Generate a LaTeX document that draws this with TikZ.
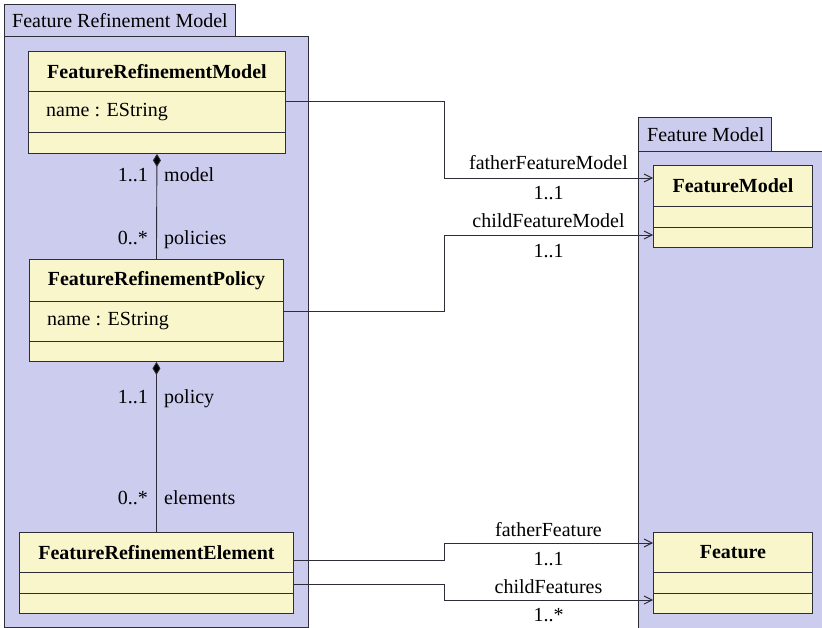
\documentclass[tikz,border=0pt]{standalone}
\usepackage{fontspec}
\setmainfont{Liberation Serif}
\usetikzlibrary{arrows.meta,calc}

\definecolor{pkgfill}{RGB}{204,204,238}
\definecolor{clsfill}{RGB}{249,246,204}
\definecolor{edgecol}{RGB}{45,45,55}

\tikzset{
  every node/.style={font=\fontsize{20}{24}\selectfont, inner sep=0pt, text=black},
  pkg/.style={draw=edgecol, fill=pkgfill, line width=0.9pt, anchor=north west},
  compartment/.style={draw=edgecol, fill=clsfill, line width=0.9pt, anchor=north west},
  clsname/.style={font=\fontsize{20}{24}\selectfont\bfseries},
  assoc/.style={draw=edgecol, line width=0.9pt, -{Straight Barb[length=8pt,width=8pt]}},
  compose/.style={draw=edgecol, line width=0.9pt, {Diamond[length=13pt,width=8pt,fill=black]}-},
}

\begin{document}
\begin{tikzpicture}[x=1pt,y=-1pt]
\useasboundingbox (0,0) rectangle (822,628);

% packages
\node[pkg, minimum width=231pt, minimum height=32pt] (lpTab) at (4,4) {};
\node[anchor=west] (lpName) at ($(lpTab.west)+(8,0)$) {Feature Refinement Model};
\node[pkg, minimum width=304pt, minimum height=591pt] (lpBody) at (4,36) {};

\node[pkg, minimum width=133pt, minimum height=34pt] (rpTab) at (638,117) {};
\node[anchor=west] (rpName) at ($(rpTab.west)+(9,0)$) {Feature Model};
\node[pkg, minimum width=200pt, minimum height=490pt] (rpBody) at (638,151) {};

% FeatureRefinementModel
\node[compartment, minimum width=257pt, minimum height=40pt, clsname] (frmH) at (28,51) {FeatureRefinementModel};
\node[compartment, minimum width=257pt, minimum height=41pt] (frmA) at (28,91) {};
\node[compartment, minimum width=257pt, minimum height=21pt] (frmO) at (28,132) {};
\node[anchor=west] (frmAttr) at ($(frmA.west)+(18,0)$) {name : EString};

% FeatureRefinementPolicy
\node[compartment, minimum width=254pt, minimum height=42pt, clsname] (frpH) at (29,259) {FeatureRefinementPolicy};
\node[compartment, minimum width=254pt, minimum height=40pt] (frpA) at (29,301) {};
\node[compartment, minimum width=254pt, minimum height=20pt] (frpO) at (29,341) {};
\node[anchor=west] (frpAttr) at ($(frpA.west)+(18,0)$) {name : EString};

% FeatureRefinementElement
\node[compartment, minimum width=274pt, minimum height=40pt, clsname] (freH) at (19,532) {FeatureRefinementElement};
\node[compartment, minimum width=274pt, minimum height=21pt] (freA) at (19,572) {};
\node[compartment, minimum width=274pt, minimum height=20pt] (freO) at (19,593) {};

% FeatureModel
\node[compartment, minimum width=159pt, minimum height=41pt, clsname] (fmH) at (653,165) {FeatureModel};
\node[compartment, minimum width=159pt, minimum height=21pt] (fmA) at (653,206) {};
\node[compartment, minimum width=159pt, minimum height=20pt] (fmO) at (653,227) {};

% Feature
\node[compartment, minimum width=159pt, minimum height=40pt, clsname] (fH) at (653,532) {Feature};
\node[compartment, minimum width=159pt, minimum height=21pt] (fA) at (653,572) {};
\node[compartment, minimum width=159pt, minimum height=20pt] (fO) at (653,593) {};

% compositions
\draw[compose] (frmO.south) -- (frpH.north);
\node[anchor=base east] (m1) at (148,182) {1..1};
\node[anchor=base west] (r1) at (164,182) {model};
\node[anchor=base east] (m2) at (148,245) {0..*};
\node[anchor=base west] (r2) at (164,245) {policies};

\draw[compose] (frpO.south) -- (freH.north);
\node[anchor=base east] (m3) at (148,403) {1..1};
\node[anchor=base west] (r3) at (164,403) {policy};
\node[anchor=base east] (m4) at (148,504) {0..*};
\node[anchor=base west] (r4) at (164,504) {elements};

% associations to the Feature Model package
\coordinate (jx) at (444,0);
\coordinate (s1) at ($(frmA.north east)+(0,10)$);
\coordinate (t1) at ($(fmH.north west)+(0,13)$);
\draw[assoc] (s1) -- (s1 -| jx) |- (t1)
  node[pos=0.75, yshift=15pt] {fatherFeatureModel}
  node[pos=0.75, yshift=-15.5pt] {1..1};

\coordinate (s2) at ($(frpA.north east)+(0,10)$);
\coordinate (t2) at ($(fmO.north west)+(0,8)$);
\draw[assoc] (s2) -- (s2 -| jx) |- (t2)
  node[pos=0.75, yshift=14pt] {childFeatureModel}
  node[pos=0.75, yshift=-16.5pt] {1..1};

\coordinate (s3) at ($(freH.north east)+(0,28)$);
\coordinate (t3) at ($(fH.north west)+(0,11)$);
\draw[assoc] (s3) -- (s3 -| jx) |- (t3)
  node[pos=0.75, yshift=13.5pt] {fatherFeature}
  node[pos=0.75, yshift=-16.5pt] {1..1};

\coordinate (s4) at ($(freA.north east)+(0,12)$);
\coordinate (t4) at ($(fO.north west)+(0,7)$);
\draw[assoc] (s4) -- (s4 -| jx) |- (t4)
  node[pos=0.75, yshift=13.5pt] {childFeatures}
  node[pos=0.75, yshift=-15pt] {1..*};
\end{tikzpicture}
\end{document}
